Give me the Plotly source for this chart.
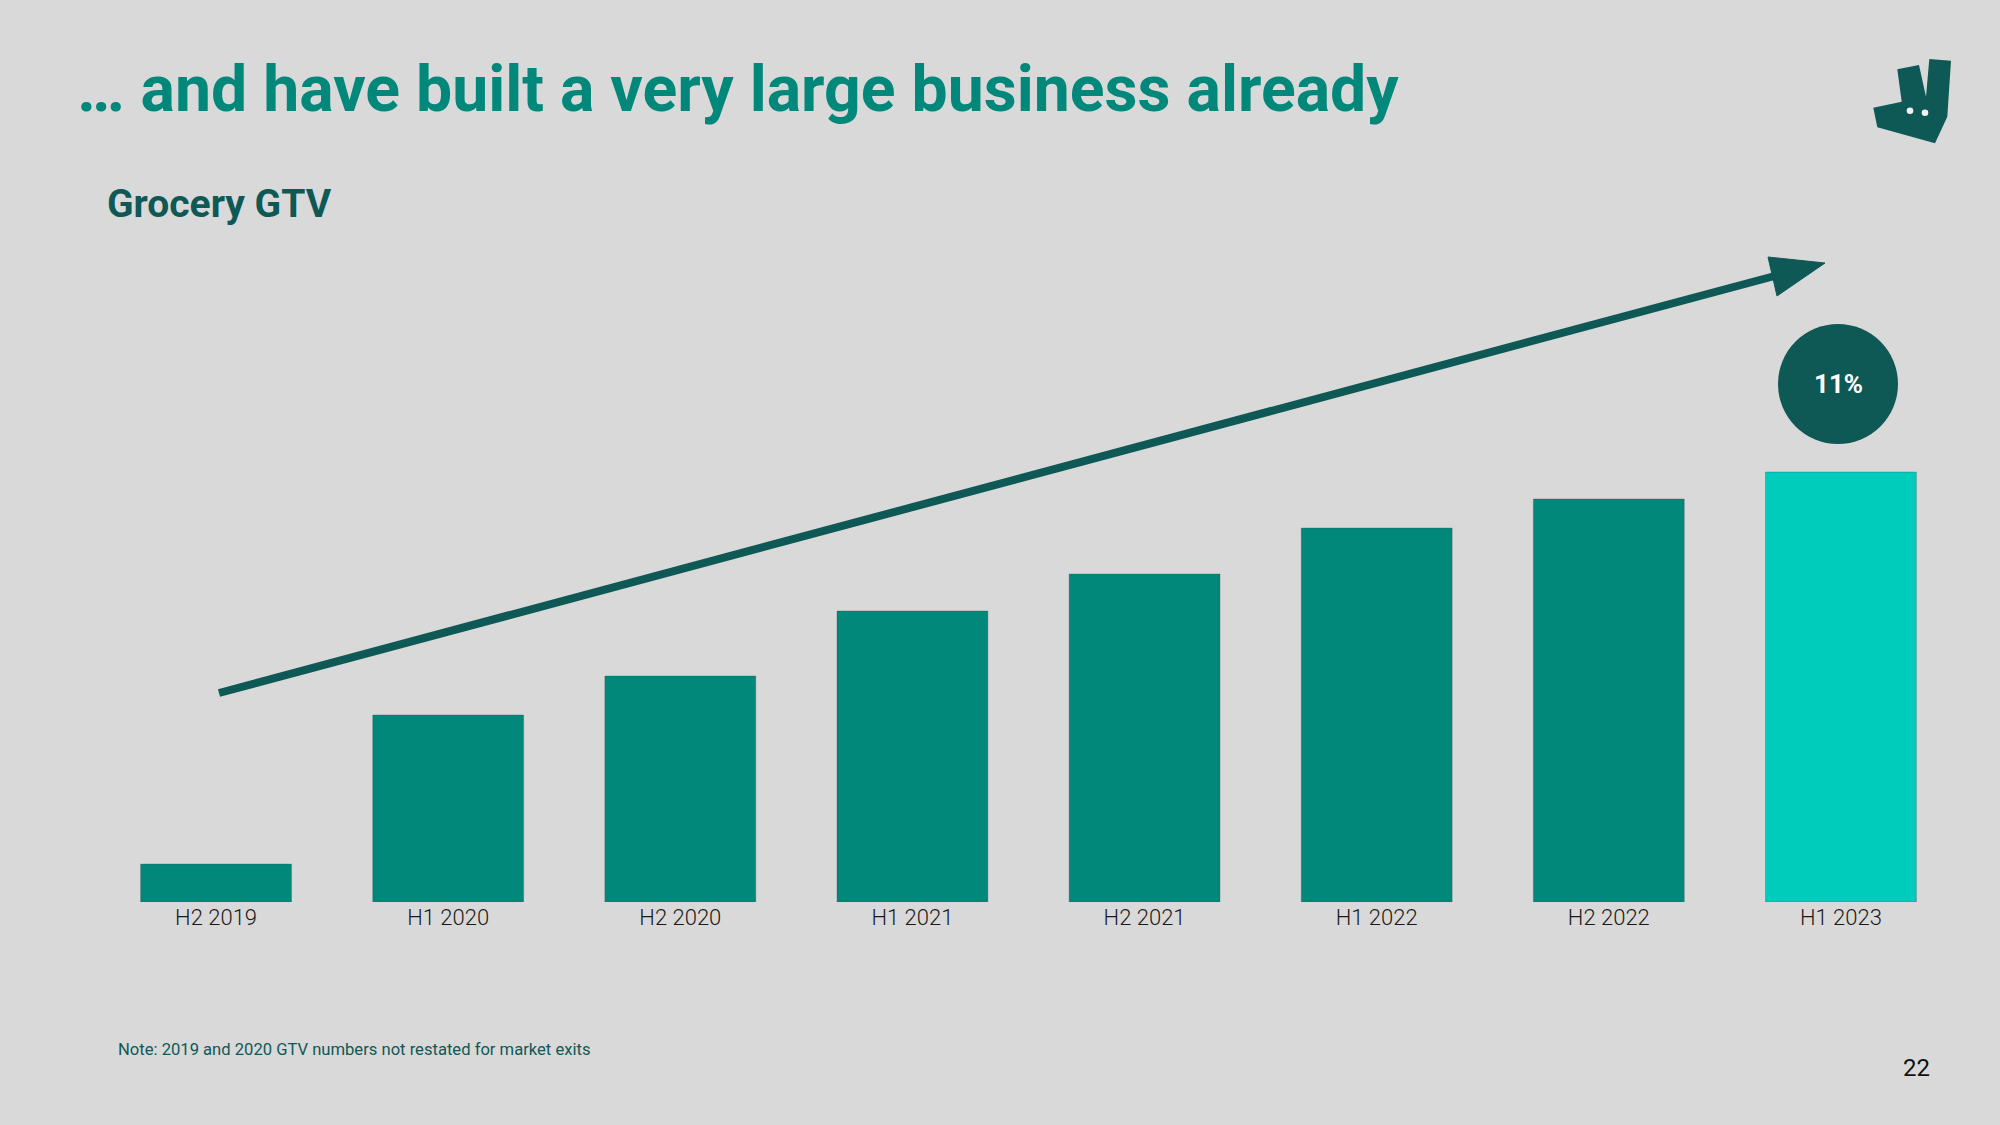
import plotly.graph_objects as go

# ---- data ----
periods = ["H2 2019", "H1 2020", "H2 2020", "H1 2021", "H2 2021", "H1 2022", "H2 2022", "H1 2023"]
grocery_gtv = [38, 187, 226, 291, 328, 374, 403, 430]  # relative GTV
bar_colors = ["#02877B"] * 7 + ["#00CCBC"]
growth_label = "11%"

# ---- layout constants ----
W, H = 2000, 1125
L, R, T, B = 100, 43, 200, 223
PW, PH = W - L - R, H - T - B
BG = "#D9D9D9"
TEAL = "#02877B"
DARK = "#0E5856"


def px(x):
    return (x - L) / PW


def py(y):
    return (H - B - y) / PH


fig = go.Figure()
fig.add_trace(go.Bar(
    x=periods, y=grocery_gtv,
    marker=dict(color=bar_colors, line=dict(color="rgba(60,90,88,0.35)", width=1)),
    width=0.65, hoverinfo="x+y",
))

shapes = []
# trend arrow (line + head)
sx, sy = 219, 693
tx, ty = 1825, 263
b1, b2 = (1768, 257), (1777, 296)
bcx, bcy = (b1[0] + b2[0]) / 2, (b1[1] + b2[1]) / 2
shapes.append(dict(type="line", xref="paper", yref="paper",
                   x0=px(sx), y0=py(sy), x1=px(bcx + 4), y1=py(bcy - 1),
                   line=dict(color=DARK, width=8)))
shapes.append(dict(type="path", xref="paper", yref="paper",
                   path=f"M {px(tx)},{py(ty)} L {px(b1[0])},{py(b1[1])} L {px(b2[0])},{py(b2[1])} Z",
                   fillcolor=DARK, line=dict(color=DARK, width=1)))
# growth circle
cx, cy, r = 1838, 384, 60
shapes.append(dict(type="circle", xref="paper", yref="paper",
                   x0=px(cx - r), x1=px(cx + r), y0=py(cy + r), y1=py(cy - r),
                   fillcolor=DARK, line=dict(width=0)))
# logo
logo_pts = [(1873.3, 107.7), (1877.3, 127.3), (1935, 143.3), (1947.3, 116.7), (1951, 60.7),
            (1929.3, 59), (1926, 96.7), (1919, 65), (1897.3, 69.3), (1901.7, 101.7)]
path = "M " + " L ".join(f"{px(x)},{py(y)}" for x, y in logo_pts) + " Z"
shapes.append(dict(type="path", xref="paper", yref="paper", path=path,
                   fillcolor=DARK, line=dict(width=0)))
for ex, ey in [(1910, 110.7), (1925, 112.7)]:
    er = 3.3
    shapes.append(dict(type="circle", xref="paper", yref="paper",
                       x0=px(ex - er), x1=px(ex + er), y0=py(ey + er), y1=py(ey - er),
                       fillcolor="#F2F2F2", line=dict(width=0)))

annotations = [
    dict(text="<b>… and have built a very large business already</b>", xref="paper", yref="paper",
         x=px(75), y=py(89), xanchor="left", yanchor="middle", showarrow=False,
         font=dict(family="Roboto", size=64.3, color=TEAL)),
    dict(text="<b>Grocery GTV</b>", xref="paper", yref="paper",
         x=px(105), y=py(204), xanchor="left", yanchor="middle", showarrow=False,
         font=dict(family="Roboto", size=39, color=DARK)),
    dict(text="<b>" + growth_label + "</b>", xref="paper", yref="paper",
         x=px(cx), y=py(cy), xanchor="center", yanchor="middle", showarrow=False,
         font=dict(family="Roboto", size=26, color="white")),
    dict(text="Note: 2019 and 2020 GTV numbers not restated for market exits", xref="paper", yref="paper",
         x=px(116), y=py(1049), xanchor="left", yanchor="middle", showarrow=False,
         font=dict(family="Roboto", size=16.6, color=DARK)),
    dict(text="22", xref="paper", yref="paper",
         x=px(1916), y=py(1068), xanchor="center", yanchor="middle", showarrow=False,
         font=dict(family="Roboto", size=24, color="#111111")),
]

fig.update_layout(
    width=W, height=H,
    margin=dict(l=L, r=R, t=T, b=B),
    paper_bgcolor=BG, plot_bgcolor=BG,
    showlegend=False,
    shapes=shapes,
    annotations=annotations,
    xaxis=dict(showgrid=False, zeroline=False, showline=False, ticks="",
               tickfont=dict(family="Roboto", size=22, color="#1A1A1A", weight=300),
               range=[-0.5, 7.5]),
    yaxis=dict(visible=False, range=[0, PH]),
    font=dict(family="Roboto"),
)

fig.write_html("out.html")
